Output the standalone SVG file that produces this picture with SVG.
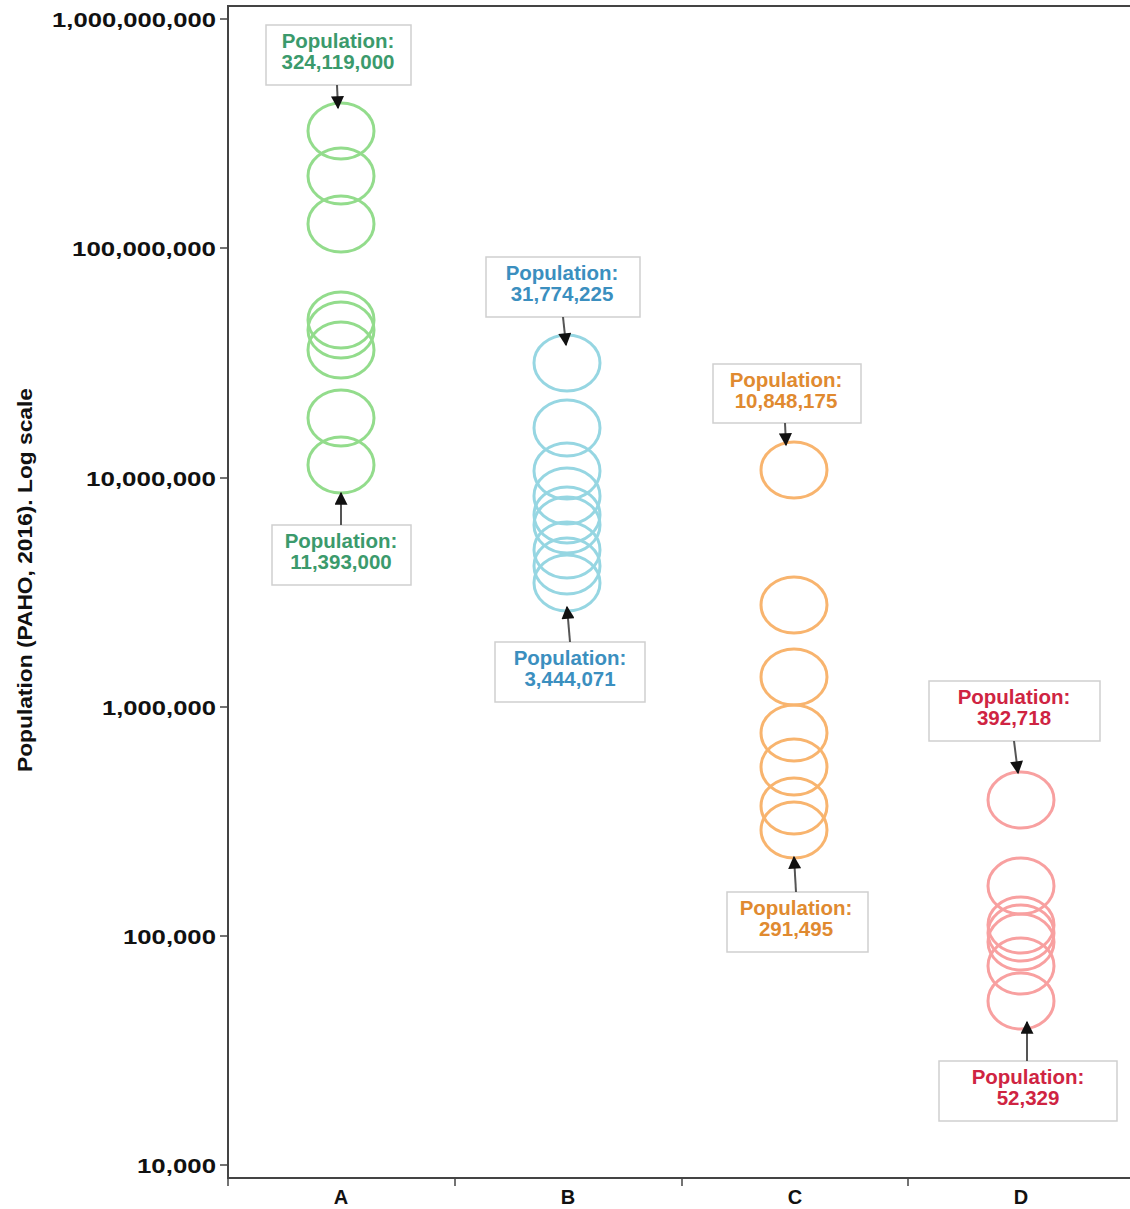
<svg xmlns="http://www.w3.org/2000/svg" width="1130" height="1209" viewBox="0 0 1130 1209">
<defs>
<marker id="ah" viewBox="0 0 10 10" refX="9" refY="5" markerWidth="14" markerHeight="13" markerUnits="userSpaceOnUse" orient="auto">
<path d="M0,0 L10,5 L0,10 Z" fill="#111"/>
</marker>
<style>
.ax{stroke:#444;stroke-width:2;fill:none}
.tk{stroke:#444;stroke-width:1.5}
.tl{font-family:"Liberation Sans",Arial,sans-serif;font-weight:bold;font-size:21px;fill:#111;text-anchor:end}
.xl{font-family:"Liberation Sans",Arial,sans-serif;font-weight:bold;font-size:20px;fill:#111;text-anchor:middle}
.box{fill:#fff;stroke:#cfcfcf;stroke-width:1.5}
.lb{font-family:"Liberation Sans",Arial,sans-serif;font-weight:bold;font-size:20.5px;text-anchor:middle}
.arr{stroke:#555;stroke-width:2;fill:none;marker-end:url(#ah)}
.ca{fill:none;stroke:#93dc8c;stroke-width:3}
.cb{fill:none;stroke:#96d6e2;stroke-width:3}
.cc{fill:none;stroke:#f8b46e;stroke-width:3}
.cd{fill:none;stroke:#f8a0a0;stroke-width:3}
.ta{fill:#3b9a6c}
.tb{fill:#3b8fbf}
.tc{fill:#e08a30}
.td{fill:#cf2442}
</style>
</defs>
<rect width="1130" height="1209" fill="#fff"/>
<g id="axes">
<path class="ax" d="M1130,6 H228 V1178 H1130"/>
<g class="tk">
<line x1="220" y1="19" x2="228" y2="19"/>
<line x1="220" y1="248" x2="228" y2="248"/>
<line x1="220" y1="478" x2="228" y2="478"/>
<line x1="220" y1="707" x2="228" y2="707"/>
<line x1="220" y1="936" x2="228" y2="936"/>
<line x1="220" y1="1165" x2="228" y2="1165"/>
<line x1="228" y1="1178" x2="228" y2="1186"/>
<line x1="455" y1="1178" x2="455" y2="1186"/>
<line x1="682" y1="1178" x2="682" y2="1186"/>
<line x1="908" y1="1178" x2="908" y2="1186"/>
</g>
<text class="tl" x="216" y="27" textLength="164" lengthAdjust="spacingAndGlyphs">1,000,000,000</text>
<text class="tl" x="216" y="256" textLength="144" lengthAdjust="spacingAndGlyphs">100,000,000</text>
<text class="tl" x="216" y="486" textLength="130" lengthAdjust="spacingAndGlyphs">10,000,000</text>
<text class="tl" x="216" y="715" textLength="114" lengthAdjust="spacingAndGlyphs">1,000,000</text>
<text class="tl" x="216" y="944" textLength="93" lengthAdjust="spacingAndGlyphs">100,000</text>
<text class="tl" x="216" y="1173" textLength="79" lengthAdjust="spacingAndGlyphs">10,000</text>
<text class="xl" x="341" y="1204">A</text>
<text class="xl" x="568" y="1204">B</text>
<text class="xl" x="795" y="1204">C</text>
<text class="xl" x="1021" y="1204">D</text>
<text class="xl" transform="translate(32,580) rotate(-90)" textLength="384" lengthAdjust="spacingAndGlyphs">Population (PAHO, 2016). Log scale</text>
</g>
<g id="series-A">
<ellipse class="ca" cx="341" cy="131" rx="33" ry="28"/>
<ellipse class="ca" cx="341" cy="176" rx="33" ry="28"/>
<ellipse class="ca" cx="341" cy="224" rx="33" ry="28"/>
<ellipse class="ca" cx="341" cy="320" rx="33" ry="28"/>
<ellipse class="ca" cx="341" cy="330" rx="33" ry="28"/>
<ellipse class="ca" cx="341" cy="350" rx="33" ry="28"/>
<ellipse class="ca" cx="341" cy="418" rx="33" ry="28"/>
<ellipse class="ca" cx="341" cy="465" rx="33" ry="28"/>
</g>
<g id="series-B">
<ellipse class="cb" cx="567" cy="363" rx="33" ry="28"/>
<ellipse class="cb" cx="567" cy="428" rx="33" ry="28"/>
<ellipse class="cb" cx="567" cy="471" rx="33" ry="28"/>
<ellipse class="cb" cx="567" cy="496" rx="33" ry="28"/>
<ellipse class="cb" cx="567" cy="515" rx="33" ry="28"/>
<ellipse class="cb" cx="567" cy="525" rx="33" ry="28"/>
<ellipse class="cb" cx="567" cy="550" rx="33" ry="28"/>
<ellipse class="cb" cx="567" cy="566" rx="33" ry="28"/>
<ellipse class="cb" cx="567" cy="583" rx="33" ry="28"/>
</g>
<g id="series-C">
<ellipse class="cc" cx="794" cy="470" rx="33" ry="28"/>
<ellipse class="cc" cx="794" cy="605" rx="33" ry="28"/>
<ellipse class="cc" cx="794" cy="677" rx="33" ry="28"/>
<ellipse class="cc" cx="794" cy="733" rx="33" ry="28"/>
<ellipse class="cc" cx="794" cy="767" rx="33" ry="28"/>
<ellipse class="cc" cx="794" cy="806" rx="33" ry="28"/>
<ellipse class="cc" cx="794" cy="830" rx="33" ry="28"/>
</g>
<g id="series-D">
<ellipse class="cd" cx="1021" cy="800" rx="33" ry="28"/>
<ellipse class="cd" cx="1021" cy="886" rx="33" ry="28"/>
<ellipse class="cd" cx="1021" cy="925" rx="33" ry="28"/>
<ellipse class="cd" cx="1021" cy="933" rx="33" ry="28"/>
<ellipse class="cd" cx="1021" cy="942" rx="33" ry="28"/>
<ellipse class="cd" cx="1021" cy="966" rx="33" ry="28"/>
<ellipse class="cd" cx="1021" cy="1001" rx="33" ry="28"/>
</g>
<g id="label-A-max">
<rect class="box" x="266" y="25" width="145" height="60"/>
<text class="lb ta" x="338" y="48">Population:</text>
<text class="lb ta" x="338" y="69">324,119,000</text>
</g>
<g id="label-A-min">
<rect class="box" x="272" y="525" width="139" height="60"/>
<text class="lb ta" x="341" y="548">Population:</text>
<text class="lb ta" x="341" y="569">11,393,000</text>
</g>
<g id="label-B-max">
<rect class="box" x="486" y="257" width="154" height="60"/>
<text class="lb tb" x="562" y="280">Population:</text>
<text class="lb tb" x="562" y="301">31,774,225</text>
</g>
<g id="label-B-min">
<rect class="box" x="495" y="642" width="150" height="60"/>
<text class="lb tb" x="570" y="665">Population:</text>
<text class="lb tb" x="570" y="686">3,444,071</text>
</g>
<g id="label-C-max">
<rect class="box" x="713" y="364" width="148" height="59"/>
<text class="lb tc" x="786" y="387">Population:</text>
<text class="lb tc" x="786" y="408">10,848,175</text>
</g>
<g id="label-C-min">
<rect class="box" x="727" y="892" width="141" height="60"/>
<text class="lb tc" x="796" y="915">Population:</text>
<text class="lb tc" x="796" y="936">291,495</text>
</g>
<g id="label-D-max">
<rect class="box" x="929" y="681" width="171" height="60"/>
<text class="lb td" x="1014" y="704">Population:</text>
<text class="lb td" x="1014" y="725">392,718</text>
</g>
<g id="label-D-min">
<rect class="box" x="939" y="1061" width="178" height="60"/>
<text class="lb td" x="1028" y="1084">Population:</text>
<text class="lb td" x="1028" y="1105">52,329</text>
</g>
<g id="connectors">
<line class="arr" x1="337" y1="85" x2="338" y2="108"/>
<line class="arr" x1="341" y1="525" x2="341" y2="493"/>
<line class="arr" x1="563" y1="317" x2="566" y2="345"/>
<line class="arr" x1="570" y1="642" x2="567" y2="607"/>
<line class="arr" x1="785" y1="423" x2="786" y2="445"/>
<line class="arr" x1="796" y1="892" x2="794" y2="857"/>
<line class="arr" x1="1014" y1="741" x2="1018" y2="773"/>
<line class="arr" x1="1027" y1="1061" x2="1027" y2="1022"/>
</g>
</svg>
